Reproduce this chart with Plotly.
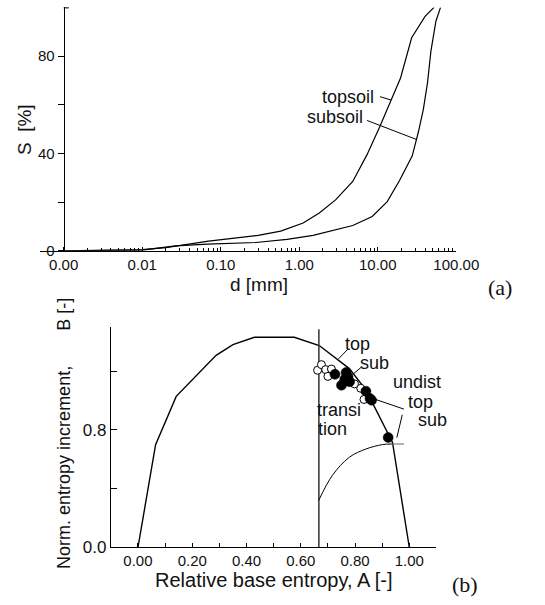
import plotly.graph_objects as go

# ---------------- data: (a) grain size distribution ----------------
d_topsoil = [0.001, 0.005, 0.01, 0.02, 0.04, 0.07, 0.17, 0.3, 0.58, 1.12, 1.8, 2.9,
             4.8, 7.3, 10.6, 14.7, 19.5, 27, 40, 52]
S_topsoil = [0, 0.2, 0.5, 1.3, 2.9, 4.0, 5.4, 6.3, 8.1, 11.4, 15.5, 20.9,
             28.5, 39.5, 51, 62, 71, 87.5, 96.3, 100]
d_subsoil = [0.001, 0.01, 0.0265, 0.068, 0.28, 0.7, 1.5, 2.9, 4.8, 8.5, 13.2, 19,
             27.5, 33, 38, 43, 47.5, 55, 63]
S_subsoil = [0, 0.3, 2.0, 2.7, 3.4, 4.7, 6.3, 8.8, 10.4, 14.1, 20.2, 29,
             39, 49, 58, 69, 82, 94.3, 100]
d_ticks = [0.001, 0.01, 0.1, 1, 10, 100]
d_ticktext = ["0.00", "0.01", "0.10", "1.00", "10.00", "100.00"]
S_ticks = [0, 20, 40, 60, 80]
S_ticktext = ["0", "", "40", "", "80"]

# ---------------- data: (b) entropy diagram ----------------
A_envelope = [0.0, 0.065, 0.141, 0.197, 0.288, 0.35, 0.429, 0.576, 0.668, 0.779, 0.84, 0.938, 1.0]
B_envelope = [0.0, 0.70, 1.028, 1.135, 1.307, 1.38, 1.43, 1.43, 1.374, 1.217, 1.072, 0.715, 0.0]
A_transition = [0.6667, 0.6667]
B_transition = [0.0, 1.485]
A_inner = [0.666, 0.717, 0.779, 0.84, 0.901, 0.935]
B_inner = [0.32, 0.492, 0.614, 0.67, 0.70, 0.704]
A_plateau = [0.93, 0.98]
B_plateau = [0.704, 0.704]
A_open = [0.662, 0.676, 0.692, 0.713, 0.70, 0.798, 0.821, 0.833]
B_open = [1.206, 1.244, 1.21, 1.214, 1.164, 1.113, 1.083, 1.007]
A_filled = [0.726, 0.767, 0.774, 0.762, 0.75, 0.78, 0.84, 0.855, 0.861, 0.922]
B_filled = [1.178, 1.19, 1.162, 1.144, 1.104, 1.128, 1.063, 1.014, 1.002, 0.748]
A_ticks = [round(0.1 * i, 1) for i in range(12)]
A_ticktext = ["0.00", "", "0.20", "", "0.40", "", "0.60", "", "0.80", "", "1.00", ""]
B_ticks = [0, 0.4, 0.8, 1.2]
B_ticktext = ["0.0", "", "0.8", ""]

W, H = 545, 605
FONT = "Liberation Sans, Arial, sans-serif"
INK = "#111111"


def fx(x):
    return x / W


def fy(y):
    return 1 - y / H


minor_vals = [m * 10 ** e for e in range(-3, 2) for m in range(2, 10)]

fig = go.Figure()
fig.add_trace(go.Scatter(x=d_topsoil, y=S_topsoil, mode="lines",
                         line=dict(color="black", width=1.2), xaxis="x", yaxis="y"))
fig.add_trace(go.Scatter(x=d_subsoil, y=S_subsoil, mode="lines",
                         line=dict(color="black", width=1.2), xaxis="x", yaxis="y"))

fig.add_trace(go.Scatter(x=A_envelope, y=B_envelope, mode="lines",
                         line=dict(color="black", width=1.4), xaxis="x2", yaxis="y2"))
fig.add_trace(go.Scatter(x=A_transition, y=B_transition, mode="lines",
                         line=dict(color="#333333", width=1.5), xaxis="x2", yaxis="y2"))
fig.add_trace(go.Scatter(x=A_inner, y=B_inner, mode="lines", line_shape="spline",
                         line=dict(color="black", width=1), xaxis="x2", yaxis="y2"))
fig.add_trace(go.Scatter(x=A_plateau, y=B_plateau, mode="lines",
                         line=dict(color="#666666", width=1.2), xaxis="x2", yaxis="y2"))
fig.add_trace(go.Scatter(x=A_open, y=B_open, mode="markers",
                         marker=dict(symbol="circle", size=8, color="white",
                                     line=dict(color="black", width=1)),
                         xaxis="x2", yaxis="y2"))
fig.add_trace(go.Scatter(x=A_filled, y=B_filled, mode="markers",
                         marker=dict(symbol="circle", size=10, color="black",
                                     line=dict(color="black", width=0.5)),
                         xaxis="x2", yaxis="y2"))

x_left, x_right, y_axis_px = 41.7, 476.4, 66.5
decade = (x_right - y_axis_px) / 5
log_left = -3 - (y_axis_px - x_left) / decade

axis_common = dict(showgrid=False, zeroline=False, showline=True, linecolor="black",
                   linewidth=1, tickcolor="black", tickwidth=1)

fig.update_layout(
    width=W, height=H, margin=dict(l=0, r=0, t=0, b=0),
    paper_bgcolor="white", plot_bgcolor="white", showlegend=False,
    font=dict(family=FONT, color=INK),
    xaxis=dict(type="log", domain=[fx(x_left), fx(x_right)], range=[log_left, 2.0],
               anchor="y", ticks="inside", ticklen=4, tickvals=d_ticks, ticktext=d_ticktext,
               tickfont=dict(size=15, color=INK),
               minor=dict(tickvals=minor_vals, ticks="inside", ticklen=3,
                          tickcolor="black", showgrid=False),
               **axis_common),
    yaxis=dict(domain=[fy(255), fy(7.5)], range=[0, 100], anchor="free",
               position=fx(y_axis_px), ticks="outside", ticklen=6,
               tickvals=S_ticks, ticktext=S_ticktext, tickfont=dict(size=15, color=INK),
               **axis_common),
    xaxis2=dict(domain=[fx(115.7), fx(455.7)], range=[-0.1, 1.1], anchor="y2",
                ticks="inside", ticklen=4, tickvals=A_ticks, ticktext=A_ticktext,
                tickfont=dict(size=15, color=INK), **axis_common),
    yaxis2=dict(domain=[fy(556.7), fy(332.5)], range=[0, 1.5], anchor="x2",
                ticks="inside", ticklen=6, tickvals=B_ticks, ticktext=B_ticktext,
                tickfont=dict(size=17, color=INK), **axis_common),
)


def label(text, x, y, size=18, xanchor="center", angle=0, family=FONT):
    fig.add_annotation(text=text, x=fx(x), y=fy(y), xref="paper", yref="paper",
                       showarrow=False, xanchor=xanchor, yanchor="middle",
                       textangle=angle, font=dict(family=family, size=size, color=INK))


def leader(x0, y0, x1, y1, color="black"):
    fig.add_shape(type="line", xref="paper", yref="paper",
                  x0=fx(x0), y0=fy(y0), x1=fx(x1), y1=fy(y1),
                  line=dict(color=color, width=1))


NB = "\u00a0"
# (a)
label("S" + NB * 2 + "[%]", 25, 131.3, size=19, angle=-90)
label("d [mm]", 270.8, 289, size=19)
label("(a)", 522, 292, size=22, family="Liberation Serif, Times New Roman, serif")
label("topsoil", 393, 98.3, xanchor="right")
label("subsoil", 381, 119, xanchor="right")
leader(396.7, 98.3, 408.3, 101.7)
leader(383.3, 122.5, 434.5, 141.7)
leader(66.5, 8, 72, 8)

# (b)
label("Norm. entropy increment," + NB * 7 + "B [-]", 66, 441, size=18, angle=-90)
label("Relative base entropy, A [-]", 285.6, 590, size=20)
label("(b)", 486, 594, size=22, family="Liberation Serif, Times New Roman, serif")
label("top", 373.3, 350)
label("sub", 391, 369.3)
label("undist", 435.8, 388.3)
label("top", 439.5, 408.3)
label("sub", 451.7, 427.3)
label("transi", 329, 417.3, xanchor="left")
label("tion", 329.5, 436, xanchor="left")
leader(363.3, 355, 353.3, 365)
leader(377.3, 373.3, 368.3, 380.7)
leader(421.7, 416, 391.7, 406)
leader(420, 421.7, 414.3, 445)

fig.write_html("out.html")
